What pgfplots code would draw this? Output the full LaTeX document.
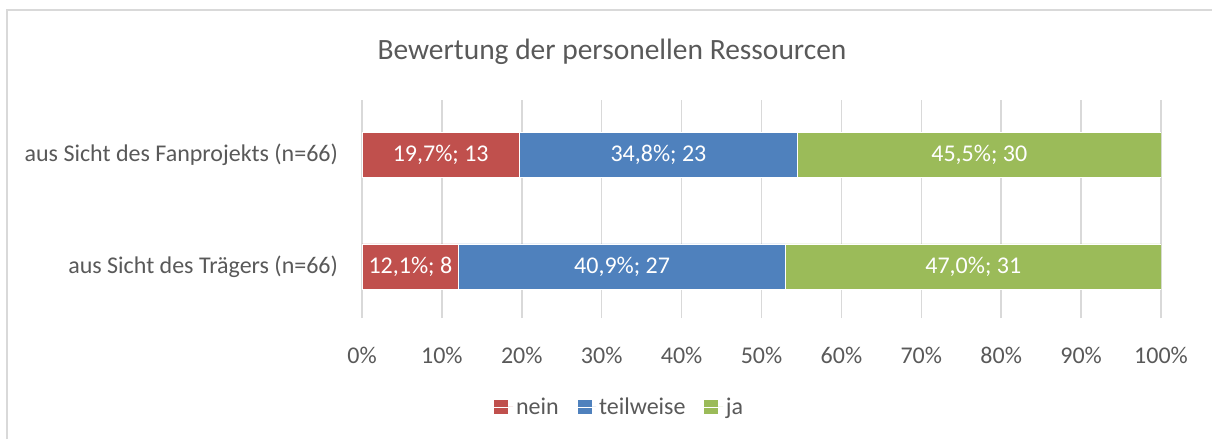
\documentclass[border=0pt]{standalone}
\usepackage{pgfplots}
\usepackage{pgfplotstable}
\pgfplotsset{compat=1.18}
\usepackage{fontspec}
\setmainfont{Carlito}
\definecolor{cnein}{RGB}{192,80,77}
\definecolor{cteil}{RGB}{79,129,189}
\definecolor{cja}{RGB}{155,187,89}
\definecolor{ctext}{RGB}{89,89,89}
\definecolor{cgrid}{RGB}{217,217,217}
\newcommand\semi{\char59\relax}
\pgfplotsset{myframe/.style={
  at={(271.5pt,90.75pt)}, anchor=south west,
  scale only axis, width=599.25pt, height=163.5pt,
  xmin=0, xmax=100, ymin=-0.46, ymax=1.487}}
\pgfplotstableread[row sep=\\]{
x y label\\
9.85 1 {19{,}7\%\semi{} 13}\\
37.1 1 {34{,}8\%\semi{} 23}\\
77.25 1 {45{,}5\%\semi{} 30}\\
6.05 0 {12{,}1\%\semi{} 8}\\
32.55 0 {40{,}9\%\semi{} 27}\\
76.5 0 {47{,}0\%\semi{} 31}\\
}\labels
\begin{document}
\begin{tikzpicture}
\useasboundingbox (0pt,0pt) rectangle (909pt,329.25pt);
\draw[cgrid, line width=1.2pt] (5.25pt,0pt) -- (5.25pt,321.75pt) -- (909pt,321.75pt);
\node[text=ctext, font=\fontsize{22.1}{26}\selectfont] at (459pt,290.5pt) {Bewertung der personellen Ressourcen};
\begin{axis}[
  myframe,
  xbar stacked, bar width=33.75pt,
  xtick={0,10,20,30,40,50,60,70,80,90,100},
  xticklabels={0\%,10\%,20\%,30\%,40\%,50\%,60\%,70\%,80\%,90\%,100\%},
  ytick={0,1},
  yticklabels={aus Sicht des Trägers (n=66), aus Sicht des Fanprojekts (n=66)},
  axis line style={draw=none},
  major tick length=0pt,
  xmajorgrids, grid style={cgrid, line width=1.1pt},
  tick label style={text=ctext, font=\fontsize{18}{21}\selectfont},
  xticklabel style={yshift=-18.5pt},
  yticklabel style={xshift=-14.5pt},
  legend columns=3,
  legend style={at={(0.323,-0.408)}, anchor=center, draw=none, font=\fontsize{18}{21}\selectfont, text=ctext, /tikz/every even column/.append style={column sep=12pt}},
  legend image code/.code={\fill[#1,draw=none] (0pt,-5.25pt) rectangle (10.5pt,5.25pt); \path (0pt,0pt) -- (14pt,0pt);},
]
\addplot[fill=cnein, draw=white, line width=0.3pt] coordinates {(12.1,0) (19.7,1)};
\addplot[fill=cteil, draw=white, line width=0.3pt] coordinates {(40.9,0) (34.8,1)};
\addplot[fill=cja, draw=white, line width=0.3pt] coordinates {(47.0,0) (45.5,1)};
\legend{nein, teilweise, ja}
\end{axis}
\begin{axis}[myframe, hide axis]
\addplot[draw=none, mark=none, nodes near coords, point meta=explicit symbolic,
  every node near coord/.style={anchor=center, text=white, font=\fontsize{18}{21}\selectfont}]
  table[x=x, y=y, meta=label] {\labels};
\end{axis}
\end{tikzpicture}
\end{document}
